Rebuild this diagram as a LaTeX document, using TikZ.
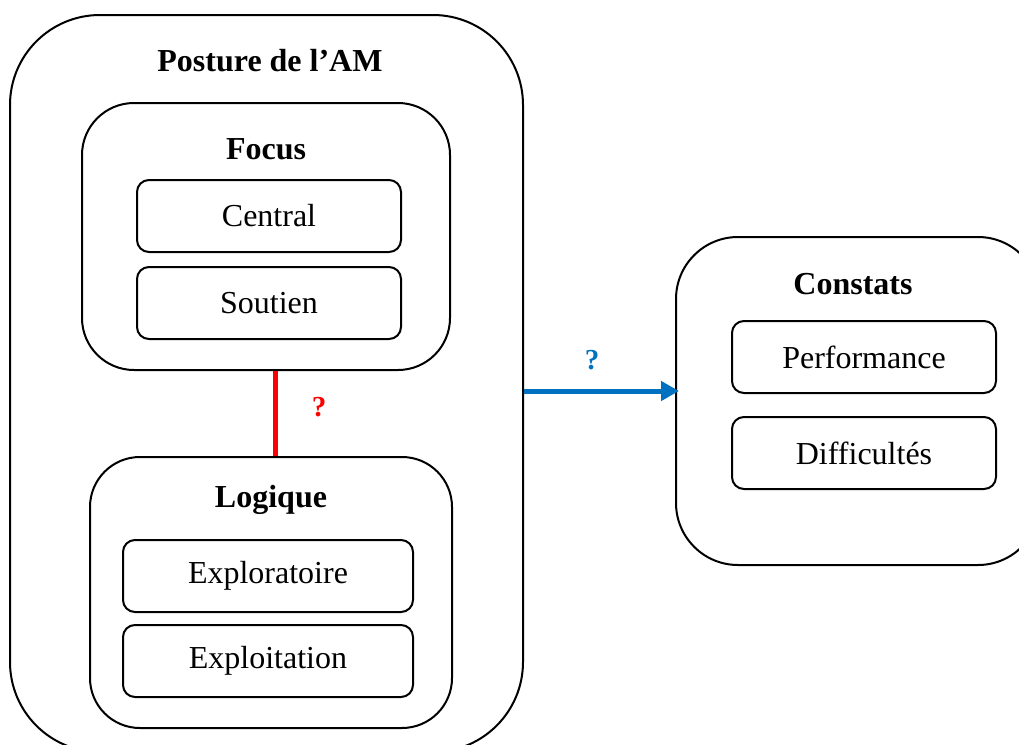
\documentclass[tikz,border=0pt]{standalone}
\usepackage{fontspec}
\setmainfont{Liberation Serif}
\usetikzlibrary{arrows.meta}
\definecolor{arrowblue}{RGB}{0,112,192}
\definecolor{linered}{RGB}{255,0,0}
\begin{document}
\begin{tikzpicture}[x=1pt,y=-1pt,
  frame/.style={draw=black, line width=2pt, inner sep=0pt, fill=none},
  item/.style={draw=black, line width=2pt, rounded corners=12pt, inner sep=0pt,
    minimum width=264pt, minimum height=72pt, font=\fontsize{32}{38}\selectfont},
  title/.style={font=\fontsize{32}{38}\selectfont\bfseries, inner sep=0pt},
  qmark/.style={font=\fontsize{29}{35}\selectfont\bfseries, inner sep=0pt}]
\useasboundingbox (0,0) rectangle (1019,744);
\clip (0,0) rectangle (1019,744);
% outer frame
\node[frame, rounded corners=90pt, minimum width=513pt, minimum height=737pt] (outer) at (266.5,383.5) {};
\node[title] (outertitle) at (270,61) {Posture de l’AM};
% focus
\node[frame, rounded corners=52pt, minimum width=368pt, minimum height=267pt] (focus) at (266,236.5) {};
\node[title] (focustitle) at (266,149) {Focus};
\node[item] (central) at (269,216) {Central};
\node[item] (soutien) at (269,303) {Soutien};
% logique
\node[frame, rounded corners=50pt, minimum width=362pt, minimum height=271pt] (logique) at (271,592.5) {};
\node[title] (logiquetitle) at (271,500) {Logique};
\node[item, minimum width=290pt] (explor) at (268,576) {Exploratoire};
\node[item, minimum width=290pt] (exploit) at (268,661) {Exploitation};
% constats
\node[frame, rounded corners=62pt, minimum width=364pt, minimum height=328pt] (constats) at (858,401) {};
\node[title] (constatstitle) at (853,284) {Constats};
\node[item] (perf) at (864,357) {Performance};
\node[item] (diff) at (864,453) {Difficultés};
% connectors
\coordinate (redx) at (275,0);
\coordinate (bluey) at (0,391);
\draw[linered, line width=5pt] (focus.south -| redx) -- (logique.north -| redx);
\node[qmark, text=linered] (redq) at (319,407) {?};
\draw[arrowblue, line width=5pt, -{Triangle[length=18pt,width=19pt]}] (outer.east |- bluey) -- ([xshift=4pt]constats.west |- bluey);
\node[qmark, text=arrowblue] (blueq) at (592,360) {?};
\end{tikzpicture}
\end{document}
